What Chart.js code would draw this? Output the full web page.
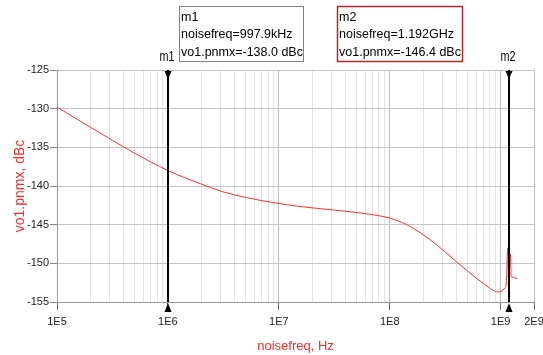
<!DOCTYPE html>
<html>
<head>
<meta charset="utf-8">
<script src="https://cdn.jsdelivr.net/npm/chart.js@4.4.1/dist/chart.umd.min.js"></script>
<style>
  html, body { margin: 0; padding: 0; background: #fff; }
  #wrap { width: 543px; height: 355px; }
</style>
</head>
<body>
<div id="wrap"><canvas id="chart" width="543" height="355"></canvas></div>
<script>
// noise sweep
const noiseFreq = [1e5, 2e5, 3.16e5, 5e5, 1e6, 2e6, 3.14e6, 5.1e6, 8.9e6,
  1.55e7, 3.1e7, 6.2e7, 1e8, 1.42e8, 2e8, 2.65e8, 4e8, 7e8, 9.5e8,
  1.09e9, 1.128e9, 1.159e9, 1.18e9, 1.226e9, 1.244e9, 1.3e9, 1.41e9];
const pnmx = [-129.8, -132.4, -134.1, -135.75, -138.0, -139.75, -140.75, -141.5, -142.15,
  -142.65, -143.1, -143.6, -144.15, -145.0, -146.3, -147.6, -149.8, -152.6, -153.7,
  -153.2, -152.4, -148.0, -152.0, -148.8, -151.7, -151.8, -152.0];

// markers
const markerNames = ['m1', 'm2'];
const markerFreqText = ['997.9kHz', '1.192GHz'];
const markerFreqs = [997.9e3, 1.192e9];
const markerValues = [-138.0, -146.4];

// axes
const xMajorTicks = [1e5, 1e6, 1e7, 1e8, 1e9, 2e9];
const xTickLabels = ['1E5', '1E6', '1E7', '1E8', '1E9', '2E9'];
const yTicks = [-155, -150, -145, -140, -135, -130, -125];

const narrow = "'Liberation Sans Narrow', 'Arial Narrow', 'Liberation Sans', Arial, sans-serif";
const regular = "'Liberation Sans', Arial, sans-serif";

// minor grid lines 2..9 in every decade
const xAllTicks = [];
for (let d = 0; d < xMajorTicks.length - 2; d++) {
  for (let k = 1; k <= 9; k++) xAllTicks.push(k * xMajorTicks[d]);
}
xAllTicks.push(xMajorTicks[xMajorTicks.length - 2]);
xAllTicks.push(xMajorTicks[xMajorTicks.length - 1]);

const isMajor = v => xMajorTicks.some(m => Math.abs(m - v) / m < 1e-6);

const markerPlugin = {
  id: 'markers',
  afterDatasetsDraw(chart) {
    const ctx = chart.ctx;
    const xs = chart.scales.x;
    const area = chart.chartArea;
    ctx.save();
    markerFreqs.forEach((f, i) => {
      const px = Math.round(xs.getPixelForValue(f));
      ctx.strokeStyle = '#000';
      ctx.lineWidth = 2;
      ctx.beginPath();
      ctx.moveTo(px, area.top);
      ctx.lineTo(px, area.bottom);
      ctx.stroke();
      ctx.fillStyle = '#000';
      // down triangle at top
      ctx.beginPath();
      ctx.moveTo(px - 3.5, area.top + 1);
      ctx.lineTo(px + 3.5, area.top + 1);
      ctx.lineTo(px, area.top + 9);
      ctx.closePath();
      ctx.fill();
      // up triangle at bottom
      ctx.beginPath();
      ctx.moveTo(px, area.bottom + 1);
      ctx.lineTo(px + 3.5, area.bottom + 10);
      ctx.lineTo(px - 3.5, area.bottom + 10);
      ctx.closePath();
      ctx.fill();
      // name above the plot
      ctx.save();
      ctx.translate(px - 1, area.top - 9);
      ctx.scale(0.72, 1);
      ctx.font = '15px ' + regular;
      ctx.textAlign = 'center';
      ctx.textBaseline = 'alphabetic';
      ctx.fillText(markerNames[i], 0, 0);
      ctx.restore();
    });
    ctx.restore();
  },
  afterDraw(chart) {
    const ctx = chart.ctx;
    const boxes = [
      { x: 179.5, y: 6.5, w: 124, h: 55, border: '#808080', lw: 1 },
      { x: 337.5, y: 6.5, w: 125, h: 55, border: '#b52828', lw: 1.5 }
    ];
    ctx.save();
    boxes.forEach((b, i) => {
      ctx.fillStyle = '#fff';
      ctx.fillRect(b.x, b.y, b.w, b.h);
      ctx.strokeStyle = b.border;
      ctx.lineWidth = b.lw;
      ctx.strokeRect(b.x, b.y, b.w, b.h);
      ctx.fillStyle = '#000';
      ctx.font = '12.5px ' + regular;
      ctx.textAlign = 'left';
      ctx.textBaseline = 'alphabetic';
      const lines = [
        markerNames[i],
        'noisefreq=' + markerFreqText[i],
        'vo1.pnmx=' + markerValues[i].toFixed(1) + ' dBc'
      ];
      lines.forEach((t, j) => ctx.fillText(t, b.x + 1.5, b.y + 14 + j * 17.5));
    });
    ctx.restore();
  }
};

new Chart(document.getElementById('chart'), {
  type: 'line',
  data: {
    datasets: [{
      data: noiseFreq.map((f, i) => ({ x: f, y: pnmx[i] })),
      borderColor: '#ff3030',
      borderWidth: 1,
      pointRadius: 0,
      cubicInterpolationMode: 'monotone',
      fill: false
    }]
  },
  options: {
    responsive: false,
    animation: false,
    events: [],
    layout: { padding: { top: 70, right: 9, left: 0, bottom: 0 } },
    plugins: { legend: { display: false }, tooltip: { enabled: false } },
    scales: {
      x: {
        type: 'logarithmic',
        min: 1e5,
        max: 2e9,
        afterBuildTicks: s => { s.ticks = xAllTicks.map(v => ({ value: v })); },
        afterFit: s => { s.height = 53; s.paddingLeft = 0; s.paddingRight = 0; },
        grid: {
          color: c => isMajor(c.tick.value) ? '#bdbdbd' : '#e4e4e4',
          tickColor: c => isMajor(c.tick.value) ? '#666' : 'rgba(0,0,0,0)',
          tickLength: 8,
          lineWidth: 1
        },
        border: { color: '#999', width: 1 },
        ticks: {
          autoSkip: false,
          maxRotation: 0,
          padding: 5,
          color: '#222',
          font: { family: narrow, size: 11 },
          callback: v => {
            const i = xMajorTicks.findIndex(m => Math.abs(m - v) / m < 1e-6);
            return i >= 0 ? xTickLabels[i] : '';
          }
        },
        title: {
          display: true,
          text: 'noisefreq, Hz',
          color: '#ff2a2a',
          font: { family: narrow, size: 13 },
          padding: { top: 0, bottom: 1 }
        }
      },
      y: {
        min: yTicks[0],
        max: yTicks[yTicks.length - 1],
        afterBuildTicks: s => { s.ticks = yTicks.map(v => ({ value: v })); },
        afterFit: s => { s.width = 57; s.paddingTop = 0; s.paddingBottom = 0; },
        grid: { color: '#c4c4c4', tickColor: '#888', tickLength: 7, lineWidth: 1 },
        border: { color: '#999', width: 1 },
        ticks: {
          padding: 1,
          color: '#222',
          font: { family: narrow, size: 11 }
        },
        title: {
          display: true,
          text: 'vo1.pnmx, dBc',
          color: '#ff2a2a',
          font: { family: regular, size: 14 },
          padding: { top: 12, bottom: 0 }
        }
      }
    }
  },
  plugins: [markerPlugin]
});
</script>
</body>
</html>
